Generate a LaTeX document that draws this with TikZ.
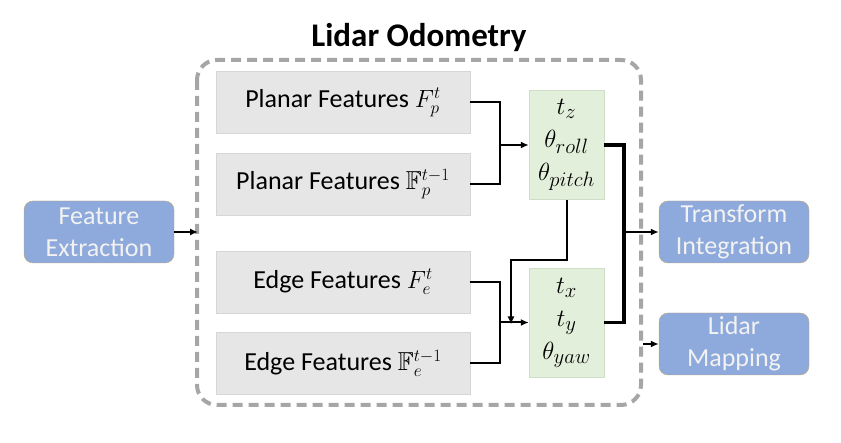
\documentclass[tikz,border=0pt]{standalone}
\usepackage{amssymb}
\usepackage{fontspec}
\setmainfont{Carlito}
\usetikzlibrary{arrows.meta,positioning,calc}
\definecolor{featgray}{HTML}{E7E6E6}
\definecolor{featline}{HTML}{D6D6D6}
\definecolor{estgreen}{HTML}{E2EFDA}
\definecolor{estline}{HTML}{D0DEC8}
\definecolor{modblue}{HTML}{8EA9DB}
\definecolor{modline}{HTML}{BFA76F}
\definecolor{odoline}{HTML}{A6A6A6}
\tikzset{
    -{Latex[length=8pt,width=7pt]},semithick,
    feat/.style ={rectangle, draw=featline, fill=featgray, minimum width=254pt, minimum height=62pt,
                  font=\fontsize{26}{30}\selectfont, inner sep=0pt},
    est/.style = {rectangle, draw=estline, fill=estgreen, minimum width=75pt, minimum height=109pt,
                  align=center, font=\fontsize{30}{33}\selectfont, inner sep=0pt},
    module/.style = {rectangle, rounded corners=9pt, draw=modline, fill=modblue, text=white!95!black,
                  minimum width=150pt, minimum height=62pt, align=center,
                  font=\fontsize{26}{32}\selectfont, inner sep=0pt},
    link/.style = {line width=2pt},
    bus/.style = {line width=3.5pt, -},
    frame/.style = {draw=odoline, line width=4pt, dash pattern=on 10pt off 6pt, rounded corners=20pt, -}
}
\begin{document}
\begin{tikzpicture}[x=1pt,y=-1pt]
    \useasboundingbox (0,0) rectangle (841,443);
    % lidar odometry frame
    \draw[frame] (197,60) rectangle (641,405);
    \node[font=\fontsize{33}{36}\selectfont\bfseries] (title) at (419,38) {Lidar Odometry};

    \node[module] (fe) at (99,232) {Feature\\Extraction};
    \node[module] (ti) at (734,232) {Transform\\Integration};
    \node[module] (lm) at (734,344) {Lidar\\Mapping};

    \node[feat] (p1) at (343,102.5) {Planar Features $F_p^t$};
    \node[feat] (p2) at (343,184) {Planar Features $\mathbb{F}_p^{t-1}$};
    \node[feat] (e1) at (343,282) {Edge Features $F_e^t$};
    \node[feat] (e2) at (343,363.5) {Edge Features $\mathbb{F}_e^{t-1}$};

    \node[est] (g1) at (566.5,145) {$t_z$\\$\theta_{roll}$\\$\theta_{pitch}$};
    \node[est] (g2) at (566.5,322.5) {$t_x$\\$t_y$\\$\theta_{yaw}$};

    \coordinate (m1) at (500,145);
    \coordinate (m2) at (500,322.5);
    \coordinate (k) at (511,260);
    \coordinate (bus) at (624,232);
    \coordinate (fin) at (198,232);
    \coordinate (lin) at (643,344);

    \draw[link,-] (p1.east) -| (m1);
    \draw[link,-] (p2.east) -| (m1);
    \draw[link] (m1) -- (g1.west);

    \draw[link,-] (e1.east) -| (m2);
    \draw[link,-] (e2.east) -| (m2);
    \draw[link] (m2) -- (g2.west);

    \draw[link] (g1.south) |- (k) -- ([yshift=-2pt]k |- m2);

    \draw[bus] (g1.east) -| (bus) |- (g2.east);
    \draw[link] (bus) -- (ti.west);
    \draw[link] (lin) -- (lm.west);
    \draw[link] (fe.east) -- (fin);
\end{tikzpicture}
\end{document}
